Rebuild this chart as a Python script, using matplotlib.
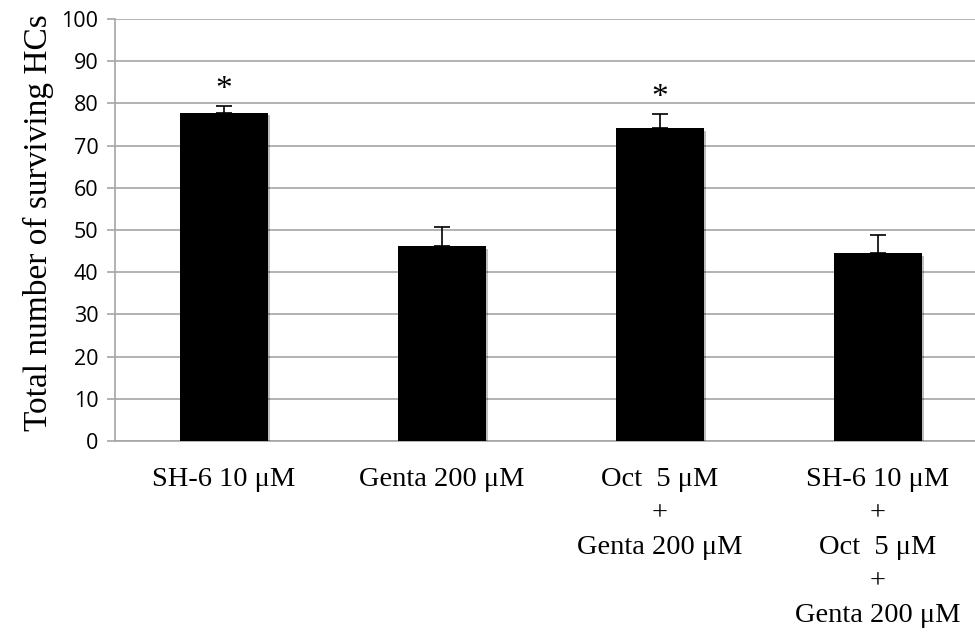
import numpy as np
import matplotlib
matplotlib.use("Agg")
import matplotlib.pyplot as plt
import matplotlib.patheffects as pe

categories = ["SH-6 10 μM",
              "Genta 200 μM",
              "Oct  5 μM\n+\nGenta 200 μM",
              "SH-6 10 μM\n+\nOct  5 μM\n+\nGenta 200 μM"]
values = [77.8, 46.2, 74.2, 44.6]
errors = [1.6, 4.6, 3.3, 4.1]
significant = [True, False, True, False]

GRID = '#a6a6a6'

fig = plt.figure(figsize=(9.75, 6.32), dpi=100)
# category width 218 px, first centre at x=224 -> right edge runs off the figure
ax = fig.add_axes([115 / 975, 1 - 441 / 632, 872 / 975, 422 / 632])

x = np.arange(len(categories))
bars = ax.bar(x, values, width=0.4, color='black', zorder=3,
              path_effects=[pe.SimplePatchShadow(offset=(2, -2), alpha=0.25),
                            pe.Normal()])
ax.errorbar(x, values, yerr=[np.zeros(len(errors)), errors], fmt='none',
            ecolor='black', elinewidth=1.2, capsize=6, capthick=1.2, zorder=4)

for xi, v, e, s in zip(x, values, errors, significant):
    if s:
        ax.text(xi, v + e + 0.2, '*', ha='center', va='bottom',
                fontsize=24, family='Liberation Serif')

ax.set_xlim(-0.5, len(categories) - 0.5)
ax.set_ylim(0, 100)
ax.set_yticks(range(0, 101, 10))
ax.yaxis.grid(True, color=GRID, linewidth=1.2, zorder=0)
ax.set_axisbelow(True)

for side in ['top', 'right']:
    ax.spines[side].set_visible(False)
for side in ['left', 'bottom']:
    ax.spines[side].set_color(GRID)
    ax.spines[side].set_linewidth(1.2)

ax.tick_params(axis='y', colors=GRID, length=6, width=1.2, labelsize=15.5,
               labelcolor='black', pad=6)
for lbl in ax.get_yticklabels():
    lbl.set_family('Open Sans')

ax.set_xticks(x)
ax.set_xticklabels(categories, family='Liberation Serif', fontsize=20.5, va='top')
for lbl in ax.get_xticklabels():
    lbl.set_linespacing(1.47)
ax.tick_params(axis='x', length=0, pad=19)

ax.set_ylabel('Total number of surviving HCs', family='Liberation Serif',
              fontsize=24)
ax.yaxis.set_label_coords(-0.07, 0.517)

plt.savefig('out.png', dpi=100)
